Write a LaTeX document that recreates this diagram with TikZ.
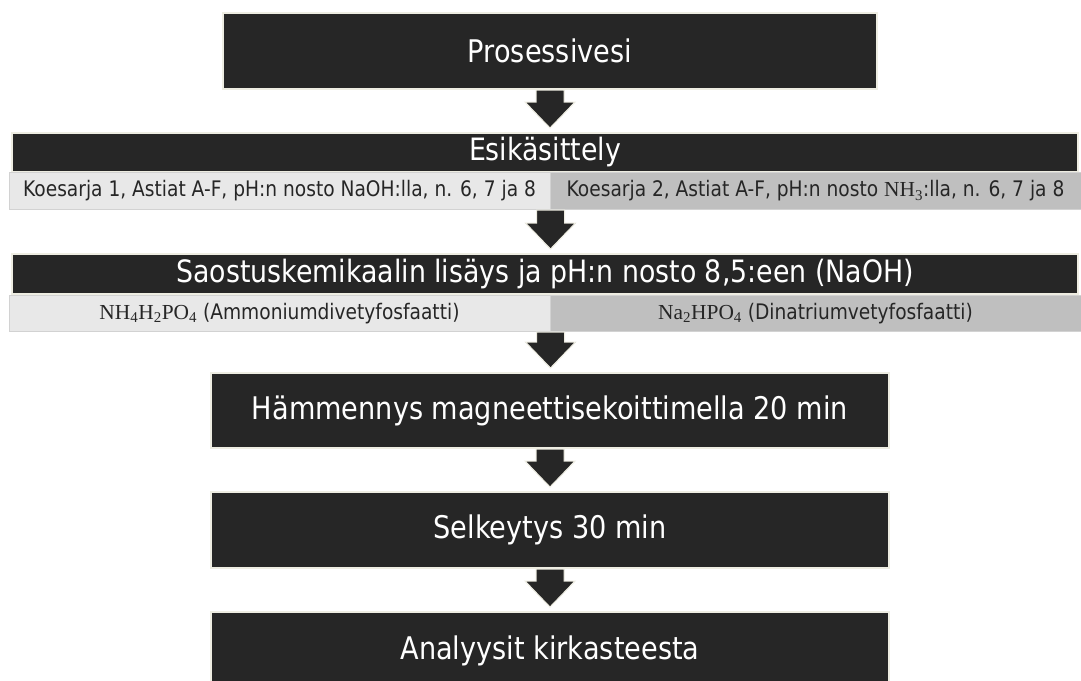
\documentclass[tikz,border=0pt]{standalone}
\usepackage{fontspec}
\setmainfont{DejaVu Sans}[FakeStretch=0.87]
\newfontfamily\chem{Liberation Serif}
\usetikzlibrary{calc}
\definecolor{boxfill}{HTML}{262626}
\definecolor{halo}{HTML}{EEEDE2}
\definecolor{rowlight}{HTML}{E8E8E8}
\definecolor{rowgray}{HTML}{BFBFBF}
\definecolor{rowline}{HTML}{D2D2D2}
\tikzset{
  stepbox/.style={fill=boxfill,draw=halo,line width=2pt,text=white,
    font=\fontsize{31.2}{36}\selectfont,inner sep=0pt},
  barbox/.style={stepbox,font=\fontsize{30.8}{35}\selectfont},
  cellbox/.style={draw=rowline,line width=1pt,text=boxfill,inner sep=0pt,
    font=\fontsize{21.4}{25}\selectfont},
  lightcell/.style={cellbox,fill=rowlight},
  graycell/.style={cellbox,fill=rowgray},
  blockarrowstyle/.style={fill=boxfill,draw=halo,line width=1pt},
}
\newcommand\blockarrow[2]{%
  \filldraw[blockarrowstyle] let \p1=(#1), \p2=(#2) in
    (\x1-14pt,\y1) -- (\x1+14pt,\y1) -- (\x1+14pt,\y2+30pt) -- (\x1+25pt,\y2+30pt)
    -- (\x1,\y2+4pt) -- (\x1-25pt,\y2+30pt) -- (\x1-14pt,\y2+30pt) -- cycle;}
\begin{document}
\begin{tikzpicture}[x=1pt,y=-1pt]
\fill[white] (0,0) rectangle (1081,680);
\useasboundingbox (0,0) rectangle (1081,680);
\clip (0,0) rectangle (1081,680);

\node[stepbox, minimum width=654, minimum height=76] (p) at (550,51) {Prosessivesi};

\node[barbox, minimum width=1066, minimum height=39] (e) at (545,152.5) {Esikäsittely};
\node[lightcell, minimum width=541, minimum height=37] (r1a) at (279.5,191)
  {Koesarja 1, Astiat A-F, pH:n nosto NaOH:lla, n. 6, 7 ja 8};
\node[graycell, minimum width=531, minimum height=37] (r1b) at (815.5,191)
  {Koesarja 2, Astiat A-F, pH:n nosto {\chem NH\textsubscript{3}}:lla, n. 6, 7 ja 8};

\node[barbox, minimum width=1066, minimum height=40] (s) at (545,274)
  {Saostuskemikaalin lisäys ja pH:n nosto 8,5:een (NaOH)};
\node[lightcell, minimum width=541, minimum height=36] (r2a) at (279.5,313.5)
  {{\chem NH\textsubscript{4}H\textsubscript{2}PO\textsubscript{4}} (Ammoniumdivetyfosfaatti)};
\node[graycell, minimum width=531, minimum height=36] (r2b) at (815.5,313.5)
  {{\chem Na\textsubscript{2}HPO\textsubscript{4}} (Dinatriumvetyfosfaatti)};

\node[stepbox, minimum width=678, minimum height=75] (h) at (550,410.5)
  {Hämmennys magneettisekoittimella 20 min};
\node[stepbox, minimum width=678, minimum height=76] (se) at (550,530)
  {Selkeytys 30 min};
\node[stepbox, minimum width=678, minimum height=78] (a) at (550,651)
  {Analyysit kirkasteesta};

\blockarrow{p.south}{e.north}
\blockarrow{r1a.south east}{s.north}
\blockarrow{r2a.south east}{h.north}
\blockarrow{h.south}{se.north}
\blockarrow{se.south}{a.north}
\end{tikzpicture}
\end{document}
